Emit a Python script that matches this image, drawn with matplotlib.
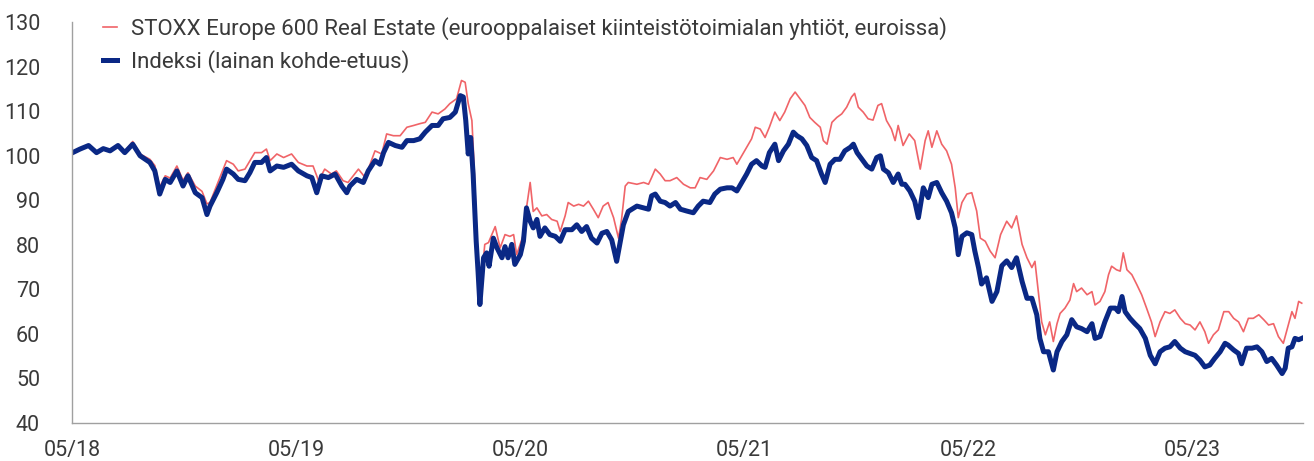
import matplotlib
matplotlib.use("Agg")
import matplotlib.pyplot as plt
import matplotlib.dates as mdates
import pandas as pd

# values (days counted from 2018-05-01)
start = "2018-05-01"
end = "2023-10-29"

blue_days = [1, 13, 27, 40, 51, 62, 75, 86, 99, 111, 127, 135, 143, 152, 160, 171, 181, 189, 201, 212,
             220, 225, 236, 246, 252, 263, 271, 282, 290, 298, 309, 317, 323, 334, 345, 358, 369, 383,
             391, 399, 407, 418, 429, 440, 448, 453, 464, 475, 483, 494, 502, 508, 516, 527, 538, 546,
             557, 567, 576, 587, 597, 605, 616, 625, 633, 638, 642, 646, 650, 654, 659, 662, 665, 671,
             676, 680, 687, 693, 701, 706, 711, 717, 722, 731, 736, 741, 747, 752, 758, 763, 771, 779,
             788, 796, 804, 815, 823, 831, 839, 847, 856, 864, 872, 880, 888, 894, 899, 907, 921, 932,
             940, 945, 951, 959, 967, 975, 984, 992, 1002, 1013, 1021, 1029, 1040, 1048, 1057, 1068,
             1076, 1084, 1092, 1100, 1108, 1116, 1125, 1130, 1137, 1146, 1152, 1160, 1168, 1176, 1182,
             1190, 1198, 1206, 1214, 1222, 1228, 1236, 1244, 1252, 1260, 1269, 1274, 1280, 1288, 1296,
             1304, 1312, 1318, 1323, 1331, 1339, 1347, 1353, 1358, 1366, 1374, 1380, 1388, 1396, 1402,
             1410, 1418, 1426, 1434, 1440, 1445, 1451, 1459, 1467, 1472, 1478, 1483, 1491, 1500, 1508,
             1516, 1524, 1532, 1540, 1549, 1557, 1565, 1573, 1578, 1584, 1592, 1600, 1606, 1614, 1622,
             1630, 1638, 1646, 1655, 1663, 1668, 1676, 1684, 1693, 1701, 1706, 1712, 1717, 1725, 1733,
             1741, 1750, 1758, 1766, 1774, 1782, 1790, 1798, 1807, 1815, 1823, 1831, 1839, 1847, 1855,
             1863, 1872, 1880, 1885, 1894, 1902, 1907, 1915, 1924, 1932, 1940, 1948, 1956, 1964, 1973,
             1978, 1983, 1989, 1994, 2000, 2005]
blue_vals = [100.7, 101.5, 102.3, 100.7, 101.6, 101.1, 102.3, 100.7, 102.6, 100.0, 98.5, 96.6, 91.4, 94.7,
             94.0, 96.6, 93.2, 95.5, 91.7, 90.6, 86.8, 88.7, 91.7, 94.7, 97.0, 95.9, 94.7, 94.4, 96.2,
             98.5, 98.5, 99.6, 96.6, 97.7, 97.4, 98.1, 96.6, 95.5, 95.1, 91.7, 95.5, 95.1, 95.9, 93.2,
             91.7, 93.2, 94.7, 94.0, 96.6, 98.9, 98.1, 100.7, 103.0, 102.3, 101.9, 103.4, 103.4, 103.8,
             105.3, 106.8, 106.8, 108.3, 108.6, 109.8, 113.5, 113.2, 107.9, 100.4, 104.1, 95.9, 80.8,
             74.1, 66.6, 77.1, 78.2, 75.2, 81.5, 79.3, 77.1, 79.6, 77.1, 80.1, 75.6, 77.8, 80.8, 88.3,
             85.3, 83.8, 85.7, 81.9, 83.8, 82.3, 81.9, 80.8, 83.4, 83.4, 84.5, 83.0, 84.1, 81.5, 80.4,
             82.6, 83.0, 81.1, 76.3, 80.8, 84.5, 87.5, 88.7, 88.3, 88.0, 91.0, 91.4, 89.8, 89.5, 88.7,
             89.5, 88.0, 87.6, 87.2, 88.7, 89.8, 89.5, 91.4, 92.5, 92.8, 92.8, 92.1, 94.0, 95.9, 98.1,
             98.9, 97.7, 97.4, 100.7, 102.6, 98.9, 101.1, 102.6, 105.3, 104.5, 103.8, 102.3, 99.6, 98.9,
             95.9, 94.0, 98.1, 99.2, 99.2, 101.1, 101.9, 102.6, 100.7, 99.2, 97.7, 97.0, 99.6, 100.0,
             97.0, 96.2, 94.0, 95.9, 93.6, 93.6, 92.1, 89.8, 86.1, 92.8, 90.6, 93.6, 94.0, 91.7, 89.8,
             87.2, 83.8, 77.8, 81.9, 82.7, 82.3, 78.6, 74.9, 71.2, 72.6, 67.3, 69.5, 75.3, 76.4, 74.9,
             77.1, 71.8, 68.0, 68.0, 64.3, 59.0, 56.0, 56.0, 51.9, 56.0, 58.3, 59.8, 63.2, 61.6, 61.2,
             60.5, 62.3, 59.0, 59.4, 62.7, 65.8, 65.8, 65.0, 68.4, 65.0, 63.5, 62.3, 61.2, 59.0, 55.2,
             53.3, 56.0, 56.8, 57.1, 58.3, 56.8, 56.0, 55.6, 55.2, 54.1, 52.6, 53.0, 54.5, 56.0, 57.9,
             57.5, 56.4, 55.6, 53.3, 56.8, 56.8, 57.1, 56.0, 53.8, 54.5, 53.0, 51.1, 52.3, 56.8, 57.1,
             59.0, 58.7, 59.0]

red_days = [1, 13, 27, 40, 51, 62, 75, 86, 99, 111, 127, 135, 143, 152, 160, 171, 181, 189, 201, 212,
            220, 225, 252, 263, 271, 282, 298, 309, 317, 323, 334, 345, 358, 369, 383, 393, 402, 412,
            423, 431, 442, 450, 467, 478, 494, 505, 513, 524, 535, 546, 557, 567, 576, 587, 597, 608,
            616, 627, 635, 641, 646, 652, 655, 660, 662, 665, 673, 679, 690, 698, 706, 714, 720, 725,
            736, 741, 747, 752, 758, 766, 774, 782, 791, 796, 804, 809, 818, 826, 834, 842, 850, 858,
            866, 874, 883, 891, 896, 902, 907, 921, 932, 940, 945, 951, 959, 967, 975, 986, 997, 1008,
            1016, 1024, 1035, 1046, 1057, 1068, 1078, 1084, 1095, 1103, 1108, 1114, 1122, 1130, 1137,
            1146, 1154, 1162, 1171, 1179, 1187, 1195, 1203, 1211, 1220, 1225, 1231, 1239, 1247, 1255,
            1263, 1271, 1276, 1282, 1290, 1298, 1306, 1314, 1320, 1328, 1336, 1342, 1347, 1355, 1365,
            1374, 1383, 1391, 1396, 1402, 1410, 1418, 1426, 1434, 1440, 1445, 1451, 1459, 1467, 1475,
            1481, 1489, 1497, 1505, 1514, 1524, 1532, 1540, 1549, 1557, 1565, 1570, 1576, 1581, 1587,
            1594, 1600, 1606, 1611, 1619, 1627, 1633, 1638, 1646, 1655, 1663, 1668, 1676, 1684, 1690,
            1695, 1703, 1709, 1714, 1720, 1728, 1736, 1744, 1752, 1760, 1766, 1774, 1782, 1790, 1798,
            1807, 1815, 1823, 1831, 1839, 1847, 1853, 1861, 1869, 1878, 1886, 1894, 1902, 1910, 1918,
            1926, 1935, 1943, 1951, 1959, 1967, 1975, 1983, 1989, 1994, 2000, 2005]
red_vals = [100.9, 101.7, 102.4, 100.9, 101.8, 101.3, 102.5, 101.0, 103.2, 100.4, 99.2, 97.8, 93.0, 95.5,
            95.0, 97.7, 94.5, 96.2, 93.2, 92.0, 89.2, 89.5, 98.9, 98.1, 96.6, 97.0, 100.7, 100.7, 101.5,
            98.9, 100.4, 99.6, 100.4, 98.5, 97.7, 97.7, 94.4, 97.0, 95.9, 96.6, 94.4, 94.0, 97.0, 95.1,
            101.1, 100.4, 104.9, 104.5, 104.5, 106.4, 106.8, 107.2, 107.5, 109.8, 109.4, 110.5, 111.7,
            112.8, 116.9, 116.5, 111.7, 107.9, 99.6, 81.5, 74.8, 68.5, 80.1, 80.5, 84.1, 79.3, 82.3,
            81.9, 82.3, 77.8, 82.3, 88.3, 94.0, 87.5, 88.3, 86.5, 86.8, 85.7, 85.3, 83.0, 86.5, 89.5,
            88.7, 89.1, 88.7, 89.8, 88.0, 86.1, 88.7, 89.5, 86.1, 81.5, 85.7, 93.2, 94.0, 93.6, 94.0,
            93.6, 95.1, 97.0, 95.9, 94.4, 94.4, 95.1, 93.6, 92.8, 92.8, 95.1, 94.7, 96.6, 99.6, 99.2,
            99.6, 98.1, 100.7, 102.6, 103.8, 106.4, 106.0, 104.1, 106.4, 109.8, 107.9, 109.8, 112.8,
            114.3, 112.8, 111.3, 108.6, 107.5, 106.4, 103.4, 102.6, 107.5, 108.6, 109.4, 110.9, 113.2,
            114.0, 110.9, 109.8, 108.3, 108.0, 111.3, 111.7, 107.9, 106.0, 103.4, 106.8, 102.3, 104.9,
            103.4, 97.0, 103.4, 105.6, 101.9, 105.6, 102.6, 101.1, 98.1, 92.8, 86.1, 89.5, 91.4, 91.7,
            87.6, 81.5, 80.8, 78.6, 77.1, 82.3, 85.3, 83.8, 86.5, 80.1, 77.1, 74.9, 76.3, 68.8, 62.7,
            59.8, 62.7, 58.3, 62.3, 64.6, 65.8, 67.6, 71.3, 69.5, 70.3, 68.8, 69.5, 66.5, 67.3, 69.5,
            73.3, 75.2, 74.4, 74.1, 78.2, 74.4, 73.3, 71.1, 68.8, 65.8, 62.7, 59.4, 62.7, 65.0, 64.6,
            65.4, 63.5, 62.3, 62.0, 60.9, 62.7, 60.5, 57.9, 59.8, 60.9, 65.0, 65.0, 63.5, 62.7, 60.5,
            63.5, 63.5, 64.3, 63.2, 62.0, 62.3, 59.4, 57.9, 62.0, 65.0, 63.5, 67.3, 66.9]

red_label = "STOXX Europe 600 Real Estate (eurooppalaiset kiinteistötoimialan yhtiöt, euroissa)"
blue_label = "Indeksi (lainan kohde-etuus)"

red_color = "#f06468"
blue_color = "#0a2885"
text_color = "#3a3a3a"

plt.rcParams["font.family"] = ["Roboto", "DejaVu Sans"]

t0 = pd.Timestamp(start)
red_dates = t0 + pd.to_timedelta(red_days, unit="D")
blue_dates = t0 + pd.to_timedelta(blue_days, unit="D")

fig = plt.figure(figsize=(13.14, 4.61), dpi=100)
ax = fig.add_axes([0.0548, 0.0824, 0.9368, 0.8696])

ax.plot(red_dates, red_vals, color=red_color, lw=1.2, label=red_label)
ax.plot(blue_dates, blue_vals, color=blue_color, lw=3.6, label=blue_label)

ax.set_xlim(t0, pd.Timestamp(end))
ax.set_ylim(40, 130)
ax.set_yticks(range(40, 131, 10))
ax.xaxis.set_major_locator(mdates.MonthLocator(bymonth=5))
ax.xaxis.set_major_formatter(mdates.DateFormatter("%m/%y"))

for side in ["top", "right"]:
    ax.spines[side].set_visible(False)
for side in ["left", "bottom"]:
    ax.spines[side].set_color("#a0a0a0")
    ax.spines[side].set_linewidth(1.0)

ax.tick_params(axis="y", length=0, pad=23, labelsize=15.5, labelcolor=text_color)
ax.tick_params(axis="x", length=0, pad=12, labelsize=15.5, labelcolor=text_color)

leg = ax.legend(loc="upper left", bbox_to_anchor=(0.025, 1.012), frameon=False, fontsize=16,
                borderpad=0, borderaxespad=0, handlelength=0.65, handletextpad=0.6,
                labelspacing=0.45)
for txt in leg.get_texts():
    txt.set_color(text_color)

fig.savefig("out.png", dpi=100)
